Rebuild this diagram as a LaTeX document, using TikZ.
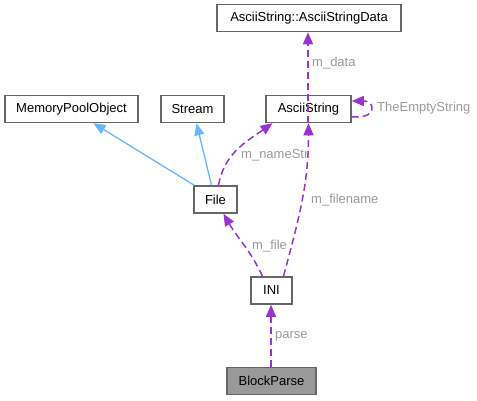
\documentclass[tikz,border=0pt]{standalone}
\usepackage{fontspec}
\setmainfont{Liberation Sans}
\usetikzlibrary{arrows.meta}
\definecolor{boxline}{HTML}{666666}
\definecolor{usecol}{HTML}{9A32CD}
\definecolor{inhcol}{HTML}{63B8FF}
\definecolor{lblcol}{HTML}{9A9A9A}
\definecolor{curfill}{HTML}{999999}
\begin{document}
\begin{tikzpicture}[x=1pt,y=-1pt,
  cls/.style={draw=boxline,line width=1.5pt,fill=white,minimum height=27pt,inner sep=0pt,font=\fontsize{13}{15}\selectfont},
  uses/.style={draw=usecol,line width=1.5pt,dash pattern=on 7pt off 4pt,-{Triangle[length=12pt,width=10pt,fill=usecol]}},
  inh/.style={draw=inhcol,line width=1.3pt,-{Triangle[length=12pt,width=10pt,fill=inhcol]}},
  lbl/.style={text=lblcol,font=\fontsize{13}{15}\selectfont,inner sep=0pt}]
\useasboundingbox (0,0) rectangle (477,400);
\node[cls,minimum width=184pt] (data) at (309,18) {AsciiString::AsciiStringData};
\node[cls,minimum width=85pt] (asc) at (308.5,109) {AsciiString};
\node[cls,minimum width=133pt] (mpo) at (71.5,109) {MemoryPoolObject};
\node[cls,minimum width=63pt] (stream) at (192.5,109) {Stream};
\node[cls,minimum width=43pt] (file) at (215.5,199.5) {File};
\node[cls,minimum width=41pt] (ini) at (271.5,290.5) {INI};
\node[cls,minimum width=89pt,fill=curfill] (bp) at (271.5,381) {BlockParse};
% inheritance
\draw[inh] ([xshift=1pt]file.north west) -- ([xshift=22pt]mpo.south);
\draw[inh] ([xshift=-4pt]file.north) -- ([xshift=4pt]stream.south);
% usage
\draw[uses] ([xshift=-0.5pt]asc.south) -- ([xshift=-1pt]data.south);
\draw[uses] ([xshift=3pt]file.north) to[out=80,in=215] ([xshift=-36pt]asc.south);
\draw[uses] ([xshift=12pt]ini.north) to[out=75,in=-90] ([xshift=0pt]asc.south);
\draw[uses] ([xshift=-9pt]ini.north) to[out=115,in=-60] ([xshift=8pt]file.south);
\draw[uses] ([xshift=-0.5pt]bp.north) -- ([xshift=-0.5pt]ini.south);
\draw[uses] ([yshift=-8pt]asc.east) to[out=0,in=-90] (372,108) to[out=90,in=0] ([yshift=8pt]asc.east);
% labels
\node[lbl,anchor=west] (lblData) at (312,63) {m\_data};
\node[lbl,anchor=west] (lblTES) at (377,108) {TheEmptyString};
\node[lbl,anchor=west] (lblName) at (241,155) {m\_nameStr};
\node[lbl,anchor=west] (lblFn) at (311,200) {m\_filename};
\node[lbl,anchor=west] (lblFile) at (252,246) {m\_file};
\node[lbl,anchor=west] (lblParse) at (275,336) {parse};
\end{tikzpicture}
\end{document}
